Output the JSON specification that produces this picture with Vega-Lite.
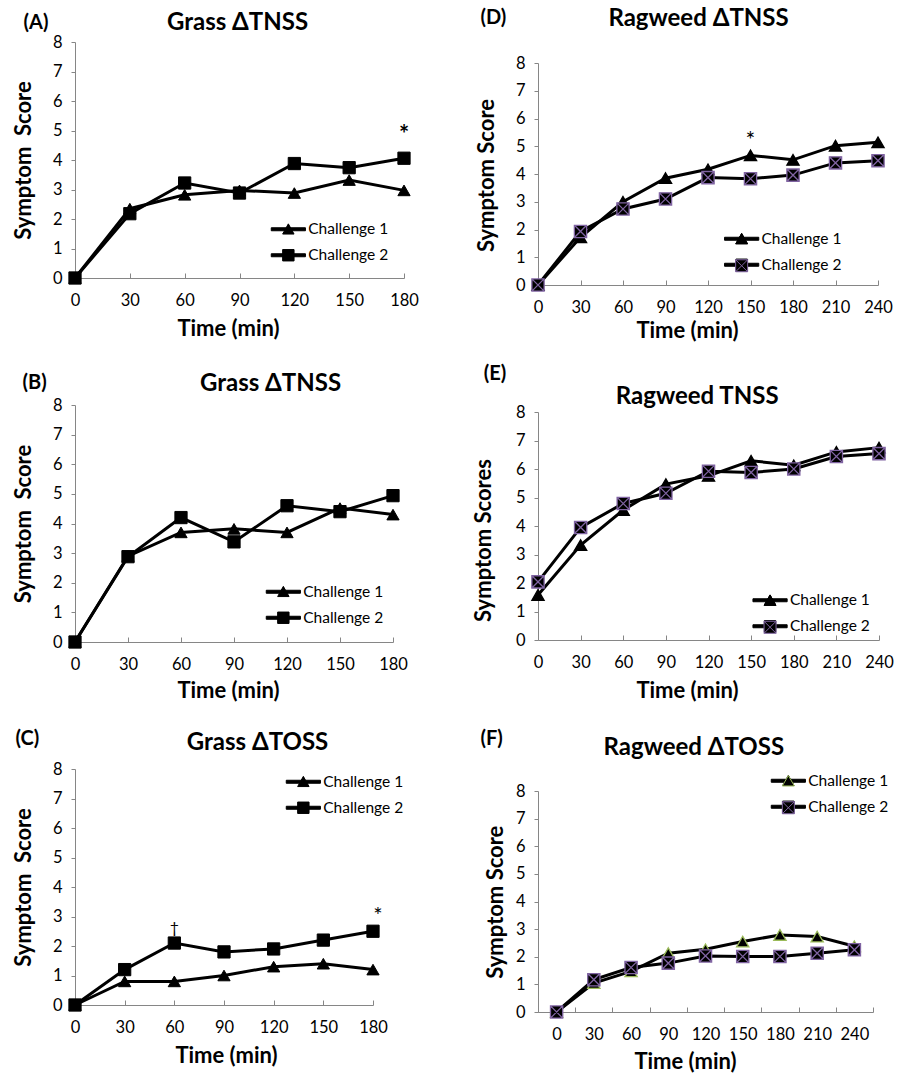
{
"$schema": "https://vega.github.io/schema/vega-lite/v6.json",
"autosize": {"type": "none"},
"padding": {"left": 75, "top": 42, "right": 836, "bottom": 1033},
"background": "white",
"config": {
  "font": "Lato",
  "view": {"stroke": null},
  "axis": {"grid": false, "domainColor": "#868686", "tickColor": "#868686", "labelColor": "#000000", "labelFont": "Lato", "labelFontSize": 16.5, "titleFont": "Lato", "titleFontWeight": "bold", "titleColor": "#000000", "titleFontSize": 22},
  "legend": {"labelFont": "Lato"},
  "text": {"font": "Lato", "color": "#000000"}
},
"resolve": {
  "scale": {"color": "independent", "shape": "independent", "fill": "independent", "stroke": "independent"},
  "legend": {"color": "independent", "shape": "independent", "fill": "independent", "stroke": "independent"}
},
"datasets": {
  "scores": [
    {"panel":"A","time":0,"series":"Challenge 1","score":0},
    {"panel":"A","time":30,"series":"Challenge 1","score":2.35},
    {"panel":"A","time":60,"series":"Challenge 1","score":2.82},
    {"panel":"A","time":90,"series":"Challenge 1","score":2.97},
    {"panel":"A","time":120,"series":"Challenge 1","score":2.88},
    {"panel":"A","time":150,"series":"Challenge 1","score":3.32},
    {"panel":"A","time":180,"series":"Challenge 1","score":2.97},
    {"panel":"A","time":0,"series":"Challenge 2","score":0},
    {"panel":"A","time":30,"series":"Challenge 2","score":2.18},
    {"panel":"A","time":60,"series":"Challenge 2","score":3.22},
    {"panel":"A","time":90,"series":"Challenge 2","score":2.88},
    {"panel":"A","time":120,"series":"Challenge 2","score":3.88},
    {"panel":"A","time":150,"series":"Challenge 2","score":3.74},
    {"panel":"A","time":180,"series":"Challenge 2","score":4.06,"note":"*"},
    {"panel":"B","time":0,"series":"Challenge 1","score":0},
    {"panel":"B","time":30,"series":"Challenge 1","score":2.9},
    {"panel":"B","time":60,"series":"Challenge 1","score":3.7},
    {"panel":"B","time":90,"series":"Challenge 1","score":3.82},
    {"panel":"B","time":120,"series":"Challenge 1","score":3.7},
    {"panel":"B","time":150,"series":"Challenge 1","score":4.52},
    {"panel":"B","time":180,"series":"Challenge 1","score":4.3},
    {"panel":"B","time":0,"series":"Challenge 2","score":0},
    {"panel":"B","time":30,"series":"Challenge 2","score":2.88},
    {"panel":"B","time":60,"series":"Challenge 2","score":4.2},
    {"panel":"B","time":90,"series":"Challenge 2","score":3.38},
    {"panel":"B","time":120,"series":"Challenge 2","score":4.6},
    {"panel":"B","time":150,"series":"Challenge 2","score":4.4},
    {"panel":"B","time":180,"series":"Challenge 2","score":4.94},
    {"panel":"C","time":0,"series":"Challenge 1","score":0},
    {"panel":"C","time":30,"series":"Challenge 1","score":0.8},
    {"panel":"C","time":60,"series":"Challenge 1","score":0.8},
    {"panel":"C","time":90,"series":"Challenge 1","score":1.0},
    {"panel":"C","time":120,"series":"Challenge 1","score":1.3},
    {"panel":"C","time":150,"series":"Challenge 1","score":1.4},
    {"panel":"C","time":180,"series":"Challenge 1","score":1.2},
    {"panel":"C","time":0,"series":"Challenge 2","score":0},
    {"panel":"C","time":30,"series":"Challenge 2","score":1.2},
    {"panel":"C","time":60,"series":"Challenge 2","score":2.1,"note":"†"},
    {"panel":"C","time":90,"series":"Challenge 2","score":1.8},
    {"panel":"C","time":120,"series":"Challenge 2","score":1.9},
    {"panel":"C","time":150,"series":"Challenge 2","score":2.2},
    {"panel":"C","time":180,"series":"Challenge 2","score":2.5,"note":"*"},
    {"panel":"D","time":0,"series":"Challenge 1","score":0},
    {"panel":"D","time":30,"series":"Challenge 1","score":1.72},
    {"panel":"D","time":60,"series":"Challenge 1","score":3.0},
    {"panel":"D","time":90,"series":"Challenge 1","score":3.85},
    {"panel":"D","time":120,"series":"Challenge 1","score":4.17},
    {"panel":"D","time":150,"series":"Challenge 1","score":4.67,"note":"*"},
    {"panel":"D","time":180,"series":"Challenge 1","score":4.51},
    {"panel":"D","time":210,"series":"Challenge 1","score":5.02},
    {"panel":"D","time":240,"series":"Challenge 1","score":5.14},
    {"panel":"D","time":0,"series":"Challenge 2","score":0},
    {"panel":"D","time":30,"series":"Challenge 2","score":1.93},
    {"panel":"D","time":60,"series":"Challenge 2","score":2.74},
    {"panel":"D","time":90,"series":"Challenge 2","score":3.1},
    {"panel":"D","time":120,"series":"Challenge 2","score":3.87},
    {"panel":"D","time":150,"series":"Challenge 2","score":3.83},
    {"panel":"D","time":180,"series":"Challenge 2","score":3.96},
    {"panel":"D","time":210,"series":"Challenge 2","score":4.4},
    {"panel":"D","time":240,"series":"Challenge 2","score":4.48},
    {"panel":"E","time":0,"series":"Challenge 1","score":1.58},
    {"panel":"E","time":30,"series":"Challenge 1","score":3.33},
    {"panel":"E","time":60,"series":"Challenge 1","score":4.56},
    {"panel":"E","time":90,"series":"Challenge 1","score":5.47},
    {"panel":"E","time":120,"series":"Challenge 1","score":5.76},
    {"panel":"E","time":150,"series":"Challenge 1","score":6.29},
    {"panel":"E","time":180,"series":"Challenge 1","score":6.13},
    {"panel":"E","time":210,"series":"Challenge 1","score":6.6},
    {"panel":"E","time":240,"series":"Challenge 1","score":6.75},
    {"panel":"E","time":0,"series":"Challenge 2","score":2.04},
    {"panel":"E","time":30,"series":"Challenge 2","score":3.95},
    {"panel":"E","time":60,"series":"Challenge 2","score":4.79},
    {"panel":"E","time":90,"series":"Challenge 2","score":5.15},
    {"panel":"E","time":120,"series":"Challenge 2","score":5.92},
    {"panel":"E","time":150,"series":"Challenge 2","score":5.88},
    {"panel":"E","time":180,"series":"Challenge 2","score":6.0},
    {"panel":"E","time":210,"series":"Challenge 2","score":6.44},
    {"panel":"E","time":240,"series":"Challenge 2","score":6.54},
    {"panel":"F","time":0,"series":"Challenge 1","score":0},
    {"panel":"F","time":30,"series":"Challenge 1","score":1.05},
    {"panel":"F","time":60,"series":"Challenge 1","score":1.47},
    {"panel":"F","time":90,"series":"Challenge 1","score":2.13},
    {"panel":"F","time":120,"series":"Challenge 1","score":2.27},
    {"panel":"F","time":150,"series":"Challenge 1","score":2.55},
    {"panel":"F","time":180,"series":"Challenge 1","score":2.79},
    {"panel":"F","time":210,"series":"Challenge 1","score":2.73},
    {"panel":"F","time":240,"series":"Challenge 1","score":2.38},
    {"panel":"F","time":0,"series":"Challenge 2","score":0},
    {"panel":"F","time":30,"series":"Challenge 2","score":1.17},
    {"panel":"F","time":60,"series":"Challenge 2","score":1.61},
    {"panel":"F","time":90,"series":"Challenge 2","score":1.77},
    {"panel":"F","time":120,"series":"Challenge 2","score":2.03},
    {"panel":"F","time":150,"series":"Challenge 2","score":2.01},
    {"panel":"F","time":180,"series":"Challenge 2","score":2.01},
    {"panel":"F","time":210,"series":"Challenge 2","score":2.13},
    {"panel":"F","time":240,"series":"Challenge 2","score":2.25}
  ]
},
"columns": 2,
"spacing": {"row": 120, "column": 134},
"align": "none",
"bounds": "flush",
"concat": [
{
  "width": 329, "height": 236,
  "data": {"name": "scores"},
  "transform": [{"filter": "datum.panel === 'A'"}],
  "resolve": {"axis": {"x": "independent", "y": "independent"}},
  "layer": [
    {"mark": {"type": "line", "strokeWidth": 3},
     "encoding": {
       "x": {"field": "time", "type": "quantitative", "scale": {"domain": [0, 180], "nice": false}, "axis": {"orient": "bottom", "values": [0,30,60,90,120,150,180], "tickSize": -5, "labelPadding": 19, "labelFlush": false, "labelOverlap": false, "title": "Time (min)", "titleX": 153, "titleY": 50, "titleBaseline": "middle", "titleAlign": "center"}},
       "y": {"field": "score", "type": "quantitative", "scale": {"domain": [0, 8], "nice": false}, "axis": {"orient": "left", "values": [0,1,2,3,4,5,6,7,8], "tickSize": 4, "labelPadding": 9, "labelFlush": false, "title": "Symptom\u00a0 Score", "titleX": -52, "titleY": 118, "titleAngle": -90, "titleBaseline": "middle", "titleAlign": "center"}},
       "color": {"field": "series", "type": "nominal", "scale": {"domain": ["Challenge 1", "Challenge 2"], "range": ["#000000", "#000000"]},
         "legend": {"orient": "none", "legendX": 216.7, "legendY": 179.5, "title": null, "padding": 0, "symbolSize": 144, "symbolStrokeWidth": 1, "labelFontSize": 15.5, "labelColor": "#000000", "labelOffset": 1, "rowPadding": 9,
           "encode": {"symbols": {"update": {"shape": {"signal": "datum.value === 'Challenge 1' ? 'M-4.7,-0.25H1V0.25H-4.7Z M-2.8,0.8L-1.85,-0.9L-0.9,0.8Z' : 'M-4.7,-0.25H1V0.25H-4.7Z M-2.8,-0.95H-0.9V0.95H-2.8Z'"}, "fill": {"value": "#000000"}, "stroke": {"value": "transparent"}, "size": {"value": 144}, "opacity": {"value": 1}}}}}}
     }},
    {"mark": {"type": "point", "filled": true, "size": 150, "strokeWidth": 1, "opacity": 1},
     "encoding": {
       "x": {"field": "time", "type": "quantitative", "axis": {"orient": "top", "labels": false, "ticks": false, "domain": false, "title": "Grass ΔTNSS", "titleX": 162, "titleY": -20, "titleFontSize": 24, "titleBaseline": "middle", "titleAlign": "center"}},
       "y": {"field": "score", "type": "quantitative", "axis": {"orient": "right", "labels": false, "ticks": false, "domain": false, "title": "(A)", "titleX": -381, "titleY": -20, "titleAngle": 0, "titleFontSize": 20, "titleAlign": "left", "titleBaseline": "middle"}},
       "shape": {"field": "series", "type": "nominal", "scale": {"range": ["triangle-up", "square"]}, "legend": null},
       "fill": {"field": "series", "type": "nominal", "scale": {"range": ["#000000", "#000000"]}, "legend": null},
       "stroke": {"field": "series", "type": "nominal", "scale": {"range": ["#000000", "#000000"]}, "legend": null}
     }},
    {"transform": [{"filter": "isValid(datum.note)"}],
     "mark": {"type": "text", "fontSize": 24, "fontWeight": "bold", "dy": -22},
     "encoding": {"x": {"field": "time", "type": "quantitative", "axis": null}, "y": {"field": "score", "type": "quantitative", "axis": null}, "text": {"field": "note"}}}
  ]
},
{
  "width": 340, "height": 243,
  "data": {"name": "scores"},
  "transform": [{"filter": "datum.panel === 'D'"}],
  "resolve": {"axis": {"x": "independent", "y": "independent"}},
  "layer": [
    {"mark": {"type": "line", "strokeWidth": 3},
     "encoding": {
       "x": {"field": "time", "type": "quantitative", "scale": {"domain": [0, 240], "nice": false}, "axis": {"orient": "bottom", "values": [0,30,60,90,120,150,180,210,240], "tickSize": -5, "labelPadding": 19, "labelFlush": false, "labelOverlap": false, "title": "Time (min)", "titleX": 149, "titleY": 45, "titleBaseline": "middle", "titleAlign": "center"}},
       "y": {"field": "score", "type": "quantitative", "scale": {"domain": [0, 8], "nice": false, "rangeMax": 21}, "axis": {"orient": "left", "values": [0,1,2,3,4,5,6,7,8], "tickSize": 4, "labelPadding": 9, "labelFlush": false, "title": "Symptom Score", "titleX": -52, "titleY": 133, "titleAngle": -90, "titleBaseline": "middle", "titleAlign": "center"}},
       "color": {"field": "series", "type": "nominal", "scale": {"domain": ["Challenge 1", "Challenge 2"], "range": ["#000000", "#000000"]},
         "legend": {"orient": "none", "legendX": 207, "legendY": 189, "title": null, "padding": 0, "symbolSize": 144, "symbolStrokeWidth": 1, "labelFontSize": 15.5, "labelColor": "#000000", "labelOffset": 1, "rowPadding": 9,
           "encode": {"symbols": {"update": {"shape": {"signal": "datum.value === 'Challenge 1' ? 'M-4.7,-0.25H1V0.25H-4.7Z M-2.8,0.8L-1.85,-0.9L-0.9,0.8Z' : 'M-4.7,-0.25H1V0.25H-4.7Z M-2.8,-0.95H-0.9V0.95H-2.8Z'"}, "fill": {"value": "#000000"}, "stroke": {"value": "transparent"}, "size": {"value": 144}, "opacity": {"value": 1}}}}}}
     }},
    {"mark": {"type": "point", "filled": true, "size": 150, "strokeWidth": 1.3, "opacity": 1},
     "encoding": {
       "x": {"field": "time", "type": "quantitative", "axis": {"orient": "top", "labels": false, "ticks": false, "domain": false, "title": "Ragweed ΔTNSS", "titleX": 160, "titleY": -24, "titleFontSize": 24, "titleBaseline": "middle", "titleAlign": "center"}},
       "y": {"field": "score", "type": "quantitative", "axis": {"orient": "right", "labels": false, "ticks": false, "domain": false, "title": "(D)", "titleX": -398, "titleY": -25, "titleAngle": 0, "titleFontSize": 20, "titleAlign": "left", "titleBaseline": "middle"}},
       "shape": {"field": "series", "type": "nominal", "scale": {"range": ["triangle-up", "M-1,-1H1V1H-1Z M-1,-1L1,1 M1,-1L-1,1"]},
         "legend": {"orient": "none", "legendX": 195.9, "legendY": 189, "title": null, "padding": 0, "symbolSize": 144, "symbolStrokeWidth": 1, "labelFontSize": 15.5, "labelColor": "transparent", "labelExpr": "''", "labelOffset": 1, "rowPadding": 9}},
       "fill": {"field": "series", "type": "nominal", "scale": {"range": ["#000000", "#000000"]}, "legend": null},
       "stroke": {"field": "series", "type": "nominal", "scale": {"range": ["#000000", "#8064a2"]}, "legend": null}
     }},
    {"transform": [{"filter": "isValid(datum.note)"}],
     "mark": {"type": "text", "fontSize": 23, "dy": -14},
     "encoding": {"x": {"field": "time", "type": "quantitative", "axis": null}, "y": {"field": "score", "type": "quantitative", "axis": null}, "text": {"field": "note"}}}
  ]
},
{
  "width": 318, "height": 237,
  "data": {"name": "scores"},
  "transform": [{"filter": "datum.panel === 'B'"}],
  "resolve": {"axis": {"x": "independent", "y": "independent"}},
  "layer": [
    {"mark": {"type": "line", "strokeWidth": 3},
     "encoding": {
       "x": {"field": "time", "type": "quantitative", "scale": {"domain": [0, 180], "nice": false}, "axis": {"orient": "bottom", "values": [0,30,60,90,120,150,180], "tickSize": -5, "labelPadding": 19, "labelFlush": false, "labelOverlap": false, "title": "Time (min)", "titleX": 153, "titleY": 48, "titleBaseline": "middle", "titleAlign": "center"}},
       "y": {"field": "score", "type": "quantitative", "scale": {"domain": [0, 8], "nice": false}, "axis": {"orient": "left", "values": [0,1,2,3,4,5,6,7,8], "tickSize": 4, "labelPadding": 9, "labelFlush": false, "title": "Symptom\u00a0 Score", "titleX": -52, "titleY": 118.5, "titleAngle": -90, "titleBaseline": "middle", "titleAlign": "center"}},
       "color": {"field": "series", "type": "nominal", "scale": {"domain": ["Challenge 1", "Challenge 2"], "range": ["#000000", "#000000"]},
         "legend": {"orient": "none", "legendX": 211.7, "legendY": 179, "title": null, "padding": 0, "symbolSize": 144, "symbolStrokeWidth": 1, "labelFontSize": 15.5, "labelColor": "#000000", "labelOffset": 1, "rowPadding": 9,
           "encode": {"symbols": {"update": {"shape": {"signal": "datum.value === 'Challenge 1' ? 'M-4.7,-0.25H1V0.25H-4.7Z M-2.8,0.8L-1.85,-0.9L-0.9,0.8Z' : 'M-4.7,-0.25H1V0.25H-4.7Z M-2.8,-0.95H-0.9V0.95H-2.8Z'"}, "fill": {"value": "#000000"}, "stroke": {"value": "transparent"}, "size": {"value": 144}, "opacity": {"value": 1}}}}}}
     }},
    {"mark": {"type": "point", "filled": true, "size": 150, "strokeWidth": 1, "opacity": 1},
     "encoding": {
       "x": {"field": "time", "type": "quantitative", "axis": {"orient": "top", "labels": false, "ticks": false, "domain": false, "title": "Grass ΔTNSS", "titleX": 195, "titleY": -22, "titleFontSize": 24, "titleBaseline": "middle", "titleAlign": "center"}},
       "y": {"field": "score", "type": "quantitative", "axis": {"orient": "right", "labels": false, "ticks": false, "domain": false, "title": "(B)", "titleX": -371, "titleY": -23, "titleAngle": 0, "titleFontSize": 20, "titleAlign": "left", "titleBaseline": "middle"}},
       "shape": {"field": "series", "type": "nominal", "scale": {"range": ["triangle-up", "square"]}, "legend": null},
       "fill": {"field": "series", "type": "nominal", "scale": {"range": ["#000000", "#000000"]}, "legend": null},
       "stroke": {"field": "series", "type": "nominal", "scale": {"range": ["#000000", "#000000"]}, "legend": null}
     }}
  ]
},
{
  "width": 341, "height": 235,
  "data": {"name": "scores"},
  "transform": [{"filter": "datum.panel === 'E'"}],
  "resolve": {"axis": {"x": "independent", "y": "independent"}},
  "layer": [
    {"mark": {"type": "line", "strokeWidth": 3},
     "encoding": {
       "x": {"field": "time", "type": "quantitative", "scale": {"domain": [0, 240], "nice": false}, "axis": {"orient": "bottom", "values": [0,30,60,90,120,150,180,210,240], "tickSize": -5, "labelPadding": 19, "labelFlush": false, "labelOverlap": false, "title": "Time (min)", "titleX": 149, "titleY": 50, "titleBaseline": "middle", "titleAlign": "center"}},
       "y": {"field": "score", "type": "quantitative", "scale": {"domain": [0, 8], "nice": false, "rangeMax": 7}, "axis": {"orient": "left", "values": [0,1,2,3,4,5,6,7,8], "tickSize": 4, "labelPadding": 9, "labelFlush": false, "title": "Symptom Scores", "titleX": -54.7, "titleY": 135, "titleAngle": -90, "titleBaseline": "middle", "titleAlign": "center"}},
       "color": {"field": "series", "type": "nominal", "scale": {"domain": ["Challenge 1", "Challenge 2"], "range": ["#000000", "#000000"]},
         "legend": {"orient": "none", "legendX": 235.4, "legendY": 187.5, "title": null, "padding": 0, "symbolSize": 144, "symbolStrokeWidth": 1, "labelFontSize": 15.5, "labelColor": "#000000", "labelOffset": 1, "rowPadding": 9,
           "encode": {"symbols": {"update": {"shape": {"signal": "datum.value === 'Challenge 1' ? 'M-4.7,-0.25H1V0.25H-4.7Z M-2.8,0.8L-1.85,-0.9L-0.9,0.8Z' : 'M-4.7,-0.25H1V0.25H-4.7Z M-2.8,-0.95H-0.9V0.95H-2.8Z'"}, "fill": {"value": "#000000"}, "stroke": {"value": "transparent"}, "size": {"value": 144}, "opacity": {"value": 1}}}}}}
     }},
    {"mark": {"type": "point", "filled": true, "size": 150, "strokeWidth": 1.3, "opacity": 1},
     "encoding": {
       "x": {"field": "time", "type": "quantitative", "axis": {"orient": "top", "labels": false, "ticks": false, "domain": false, "title": "Ragweed TNSS", "titleX": 158.7, "titleY": -8.3, "titleFontSize": 24, "titleBaseline": "middle", "titleAlign": "center"}},
       "y": {"field": "score", "type": "quantitative", "axis": {"orient": "right", "labels": false, "ticks": false, "domain": false, "title": "(E)", "titleX": -395.7, "titleY": -31.7, "titleAngle": 0, "titleFontSize": 20, "titleAlign": "left", "titleBaseline": "middle"}},
       "shape": {"field": "series", "type": "nominal", "scale": {"range": ["triangle-up", "M-1,-1H1V1H-1Z M-1,-1L1,1 M1,-1L-1,1"]},
         "legend": {"orient": "none", "legendX": 224.3, "legendY": 187.5, "title": null, "padding": 0, "symbolSize": 144, "symbolStrokeWidth": 1, "labelFontSize": 15.5, "labelColor": "transparent", "labelExpr": "''", "labelOffset": 1, "rowPadding": 9}},
       "fill": {"field": "series", "type": "nominal", "scale": {"range": ["#000000", "#000000"]}, "legend": null},
       "stroke": {"field": "series", "type": "nominal", "scale": {"range": ["#000000", "#8064a2"]}, "legend": null}
     }}
  ]
},
{
  "width": 298, "height": 243,
  "data": {"name": "scores"},
  "transform": [{"filter": "datum.panel === 'C'"}],
  "resolve": {"axis": {"x": "independent", "y": "independent"}},
  "layer": [
    {"mark": {"type": "line", "strokeWidth": 3},
     "encoding": {
       "x": {"field": "time", "type": "quantitative", "scale": {"domain": [0, 180], "nice": false}, "axis": {"orient": "bottom", "values": [0,30,60,90,120,150,180], "tickSize": -5, "labelPadding": 19, "labelFlush": false, "labelOverlap": false, "title": "Time (min)", "titleX": 151, "titleY": 50, "titleBaseline": "middle", "titleAlign": "center"}},
       "y": {"field": "score", "type": "quantitative", "scale": {"domain": [0, 8], "nice": false, "rangeMax": 7}, "axis": {"orient": "left", "values": [0,1,2,3,4,5,6,7,8], "tickSize": 4, "labelPadding": 9, "labelFlush": false, "title": "Symptom\u00a0 Score", "titleX": -52, "titleY": 125, "titleAngle": -90, "titleBaseline": "middle", "titleAlign": "center"}},
       "color": {"field": "series", "type": "nominal", "scale": {"domain": ["Challenge 1", "Challenge 2"], "range": ["#000000", "#000000"]},
         "legend": {"orient": "none", "legendX": 231.7, "legendY": 12, "title": null, "padding": 0, "symbolSize": 144, "symbolStrokeWidth": 1, "labelFontSize": 15.5, "labelColor": "#000000", "labelOffset": 1, "rowPadding": 9,
           "encode": {"symbols": {"update": {"shape": {"signal": "datum.value === 'Challenge 1' ? 'M-4.7,-0.25H1V0.25H-4.7Z M-2.8,0.8L-1.85,-0.9L-0.9,0.8Z' : 'M-4.7,-0.25H1V0.25H-4.7Z M-2.8,-0.95H-0.9V0.95H-2.8Z'"}, "fill": {"value": "#000000"}, "stroke": {"value": "transparent"}, "size": {"value": 144}, "opacity": {"value": 1}}}}}}
     }},
    {"mark": {"type": "point", "filled": true, "size": 150, "strokeWidth": 1, "opacity": 1},
     "encoding": {
       "x": {"field": "time", "type": "quantitative", "axis": {"orient": "top", "labels": false, "ticks": false, "domain": false, "title": "Grass ΔTOSS", "titleX": 182, "titleY": -20, "titleFontSize": 24, "titleBaseline": "middle", "titleAlign": "center"}},
       "y": {"field": "score", "type": "quantitative", "axis": {"orient": "right", "labels": false, "ticks": false, "domain": false, "title": "(C)", "titleX": -358, "titleY": -24, "titleAngle": 0, "titleFontSize": 20, "titleAlign": "left", "titleBaseline": "middle"}},
       "shape": {"field": "series", "type": "nominal", "scale": {"range": ["triangle-up", "square"]}, "legend": null},
       "fill": {"field": "series", "type": "nominal", "scale": {"range": ["#000000", "#000000"]}, "legend": null},
       "stroke": {"field": "series", "type": "nominal", "scale": {"range": ["#000000", "#000000"]}, "legend": null}
     }},
    {"transform": [{"filter": "datum.note === '†'"}],
     "mark": {"type": "text", "fontSize": 16, "dy": -15},
     "encoding": {"x": {"field": "time", "type": "quantitative", "axis": null}, "y": {"field": "score", "type": "quantitative", "axis": null}, "text": {"field": "note"}}},
    {"transform": [{"filter": "datum.note === '*'"}],
     "mark": {"type": "text", "fontSize": 22, "dy": -15, "dx": 5},
     "encoding": {"x": {"field": "time", "type": "quantitative", "axis": null}, "y": {"field": "score", "type": "quantitative", "axis": null}, "text": {"field": "note"}}}
  ]
},
{
  "width": 335, "height": 250,
  "data": {"name": "scores"},
  "transform": [{"filter": "datum.panel === 'F'"}],
  "resolve": {"axis": {"x": "independent", "y": "independent"}},
  "layer": [
    {"mark": {"type": "line", "strokeWidth": 3},
     "encoding": {
       "x": {"field": "time", "type": "ordinal", "scale": {"type": "band", "paddingInner": 0, "paddingOuter": 0}, "axis": {"orient": "bottom", "tickBand": "extent", "labelAngle": 0, "tickSize": -5, "labelPadding": 19, "labelOverlap": false, "title": "Time (min)", "titleX": 147, "titleY": 49.7, "titleBaseline": "middle", "titleAlign": "center"}},
       "y": {"field": "score", "type": "quantitative", "scale": {"domain": [0, 8], "nice": false, "rangeMax": 29}, "axis": {"orient": "left", "values": [0,1,2,3,4,5,6,7,8], "tickSize": 4, "labelPadding": 9, "labelFlush": false, "title": "Symptom Score", "titleX": -43, "titleY": 139.7, "titleAngle": -90, "titleBaseline": "middle", "titleAlign": "center"}},
       "color": {"field": "series", "type": "nominal", "scale": {"domain": ["Challenge 1", "Challenge 2"], "range": ["#000000", "#000000"]},
         "legend": {"orient": "none", "legendX": 253.7, "legendY": 11, "title": null, "padding": 0, "symbolSize": 144, "symbolStrokeWidth": 1, "labelFontSize": 15.5, "labelColor": "#000000", "labelOffset": 1, "rowPadding": 9,
           "encode": {"symbols": {"update": {"shape": {"signal": "datum.value === 'Challenge 1' ? 'M-4.7,-0.25H1V0.25H-4.7Z M-2.8,0.8L-1.85,-0.9L-0.9,0.8Z' : 'M-4.7,-0.25H1V0.25H-4.7Z M-2.8,-0.95H-0.9V0.95H-2.8Z'"}, "fill": {"value": "#000000"}, "stroke": {"value": "transparent"}, "size": {"value": 144}, "opacity": {"value": 1}}}}}}
     }},
    {"mark": {"type": "point", "filled": true, "size": 150, "strokeWidth": 1.3, "opacity": 1},
     "encoding": {
       "x": {"field": "time", "type": "ordinal", "axis": {"orient": "top", "labels": false, "ticks": false, "domain": false, "title": "Ragweed ΔTOSS", "titleX": 155.3, "titleY": -15, "titleFontSize": 24, "titleBaseline": "middle", "titleAlign": "center"}},
       "y": {"field": "score", "type": "quantitative", "axis": {"orient": "right", "labels": false, "ticks": false, "domain": false, "title": "(F)", "titleX": -393, "titleY": -24, "titleAngle": 0, "titleFontSize": 20, "titleAlign": "left", "titleBaseline": "middle"}},
       "shape": {"field": "series", "type": "nominal", "scale": {"range": ["triangle-up", "M-1,-1H1V1H-1Z M-1,-1L1,1 M1,-1L-1,1"]},
         "legend": {"orient": "none", "legendX": 242.6, "legendY": 11, "title": null, "padding": 0, "symbolSize": 144, "symbolStrokeWidth": 1, "labelFontSize": 15.5, "labelColor": "transparent", "labelExpr": "''", "labelOffset": 1, "rowPadding": 9}},
       "fill": {"field": "series", "type": "nominal", "scale": {"range": ["#000000", "#000000"]}, "legend": null},
       "stroke": {"field": "series", "type": "nominal", "scale": {"range": ["#9bbb59", "#8064a2"]}, "legend": null}
     }}
  ]
}
]
}
